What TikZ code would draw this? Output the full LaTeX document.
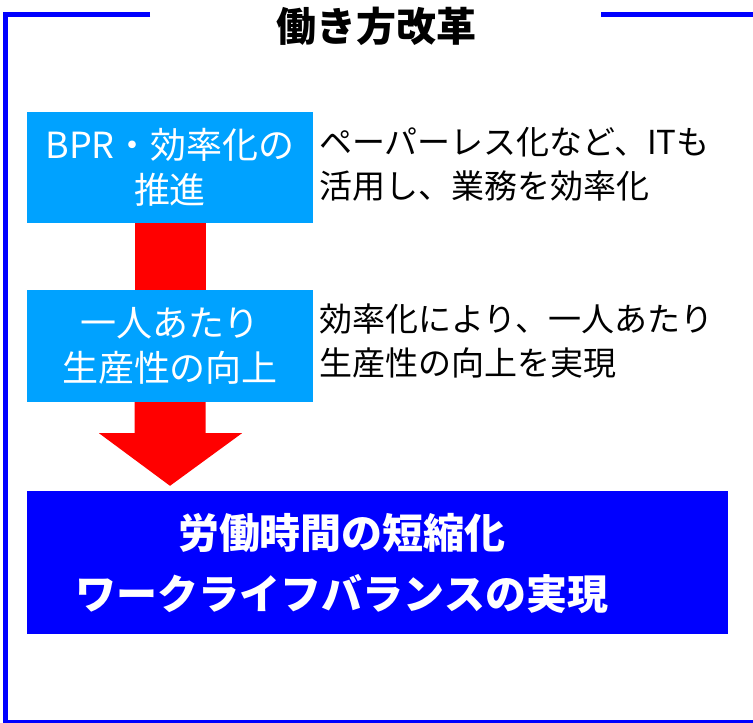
\documentclass[tikz,border=0pt]{standalone}
\usepackage{fontspec}
\setmainfont{Noto Sans CJK JP}
\usetikzlibrary{calc}
\definecolor{lblue}{RGB}{0,162,255}
\definecolor{dblue}{RGB}{0,0,255}
\definecolor{arrred}{RGB}{255,0,0}
\tikzset{
  framel/.style={draw=dblue, line width=5pt},
  stepbox/.style={rectangle, fill=lblue, text=white, minimum width=286pt, inner sep=0pt, align=center, font=\fontsize{36}{45}\selectfont},
  resultbox/.style={rectangle, fill=dblue, inner sep=0pt},
  resulttext/.style={text=white, align=center, font=\bfseries\fontsize{41}{61}\selectfont, inner sep=0pt},
  note/.style={anchor=west, align=left, inner sep=0pt, font=\fontsize{33}{44}\selectfont},
  titletext/.style={font=\bfseries\fontsize{40}{44}\selectfont, inner sep=0pt},
  flow/.style={fill=arrred}
}
\begin{document}
\begin{tikzpicture}[x=1pt,y=-1pt]
\useasboundingbox (0,0) rectangle (753,723);
\clip (0,0) rectangle (753,723);
% frame
\draw[framel] (150,14.5) -- (5.8,14.5) -- (5.8,722.5) -- (760,722.5);
\draw[framel] (601,14.5) -- (760,14.5);
\node[titletext] (title) at (376,26) {働き方改革};
% boxes
\node[stepbox, minimum height=111pt] (b1) at (170,167.5) {BPR・効率化の\\推進};
\node[stepbox, minimum height=112pt] (b2) at (170,346) {一人あたり\\生産性の向上};
\node[resultbox, minimum width=701pt, minimum height=143pt] (b3) at (377.5,562.5) {};
\node[resulttext] (b3t) at (342,563) {労働時間の短縮化\\ワークライフバランスの実現};
% notes
\node[note] (n1) at (319,164.5) {ペーパーレス化など、ITも\\活用し、業務を効率化};
\node[note] (n2) at (319,341.5) {効率化により、一人あたり\\生産性の向上を実現};
% arrows
\fill[flow] ($(b1.south)+(-35.5,0)$) rectangle ($(b2.north)+(35.5,0)$);
\coordinate (tip) at (b3.north -| b2.south);
\fill[flow] ($(b2.south)+(-35.5,0)$) -- ($(b2.south)+(-35.5,31)$) -- ($(b2.south)+(-71,31)$)
  -- ($(tip)+(0,-5)$) -- ($(b2.south)+(72,31)$) -- ($(b2.south)+(35.5,31)$) -- ($(b2.south)+(35.5,0)$) -- cycle;
\end{tikzpicture}
\end{document}
